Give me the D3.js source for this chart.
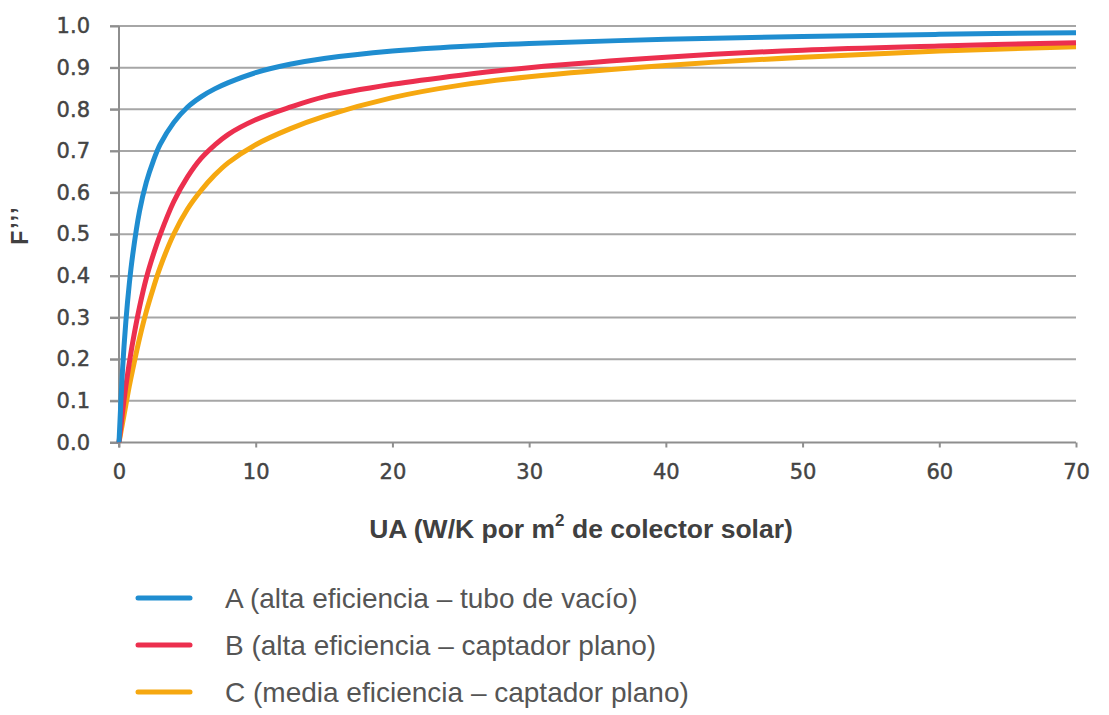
<!DOCTYPE html>
<html>
<head>
<meta charset="utf-8">
<script src="https://cdn.jsdelivr.net/npm/d3@7"></script>
<style>
  html, body { margin: 0; padding: 0; background: #ffffff; }
  svg { display: block; }
</style>
</head>
<body>
<svg id="chart" width="1109" height="715"></svg>
<script>
// UA values (W/K per m² of collector) where each curve is sampled
const ua = [0, 0.25, 0.5, 0.75, 1, 1.5, 2, 2.5, 3, 4, 5, 6, 7, 8, 10, 12.5, 15, 20, 25, 30, 40, 50, 60, 70];

// F''' for each collector type
const serieA = [0, 0.17, 0.29, 0.38, 0.45, 0.555, 0.625, 0.675, 0.715, 0.768, 0.805, 0.83, 0.849, 0.864, 0.888, 0.908, 0.922, 0.94, 0.951, 0.958, 0.968, 0.975, 0.98, 0.984];
const serieB = [0, 0.07, 0.135, 0.19, 0.24, 0.325, 0.395, 0.45, 0.498, 0.578, 0.637, 0.682, 0.714, 0.74, 0.775, 0.805, 0.83, 0.86, 0.882, 0.9, 0.925, 0.942, 0.952, 0.96];
const serieC = [0, 0.045, 0.09, 0.135, 0.175, 0.25, 0.315, 0.37, 0.42, 0.5, 0.56, 0.605, 0.642, 0.672, 0.715, 0.753, 0.783, 0.828, 0.858, 0.878, 0.905, 0.925, 0.94, 0.95];

const seriesNames = [
  "A (alta eficiencia – tubo de vacío)",
  "B (alta eficiencia – captador plano)",
  "C (media eficiencia – captador plano)"
];
const seriesColors = ["#1f8dd0", "#ec2f4e", "#f6a810"];

const xTicks = [0, 10, 20, 30, 40, 50, 60, 70];
const yTicks = [0, 0.1, 0.2, 0.3, 0.4, 0.5, 0.6, 0.7, 0.8, 0.9, 1.0];

const svg = d3.select("#chart");

const x = d3.scaleLinear().domain([0, 70]).range([119, 1076]);
const y = d3.scaleLinear().domain([0, 1]).range([442.5, 26]);

// horizontal gridlines (with short stubs left of the axis)
svg.append("g")
  .selectAll("line")
  .data(yTicks.slice(1))
  .join("line")
  .attr("x1", 110).attr("x2", 1076)
  .attr("y1", d => y(d)).attr("y2", d => y(d))
  .attr("stroke", "#a6a6a6").attr("stroke-width", 2);

const tickFont = sel => sel
  .attr("fill", "#444444")
  .attr("stroke", "#444444")
  .attr("stroke-width", 0.45)
  .style("font-family", "'DejaVu Sans', Verdana, sans-serif")
  .style("font-size", "21px");

// y axis labels
const yAxis = svg.append("g")
  .attr("transform", `translate(119,0)`)
  .call(d3.axisLeft(y).tickValues(yTicks).tickFormat(d3.format(".1f")).tickSize(9).tickPadding(20));
yAxis.select(".domain").remove();
yAxis.selectAll(".tick line").attr("stroke", "#8e8e8e").attr("stroke-width", 2);
yAxis.selectAll(".tick text").call(tickFont);

// x axis
const xAxis = svg.append("g")
  .attr("transform", `translate(0,${y(0)})`)
  .call(d3.axisBottom(x).tickValues(xTicks).tickFormat(d3.format("d")).tickSize(5).tickPadding(17));
xAxis.select(".domain").attr("stroke", "#8e8e8e").attr("stroke-width", 2)
  .attr("d", `M110,0H1076`);
xAxis.selectAll(".tick line").attr("stroke", "#8e8e8e").attr("stroke-width", 2);
xAxis.selectAll(".tick text").call(tickFont);

// vertical axis line
svg.append("line")
  .attr("x1", x(0)).attr("x2", x(0))
  .attr("y1", y(1)).attr("y2", y(0) + 5)
  .attr("stroke", "#8e8e8e").attr("stroke-width", 2);

// curves
const line = d3.line()
  .x((d, i) => x(ua[i]))
  .y(d => y(d))
  .curve(d3.curveCatmullRom.alpha(0.5));

[serieA, serieB, serieC].slice().reverse().forEach((s, k) => {
  const i = 2 - k;
  svg.append("path")
    .attr("d", line(s))
    .attr("fill", "none")
    .attr("stroke", seriesColors[i])
    .attr("stroke-width", 5)
    .attr("stroke-linejoin", "round");
});

// y axis title
svg.append("text")
  .attr("transform", "translate(28,225) rotate(-90)")
  .attr("text-anchor", "middle")
  .attr("fill", "#404040")
  .style("font-family", "'Liberation Sans', Arial, sans-serif")
  .style("font-weight", "bold")
  .style("font-size", "23px")
  .style("letter-spacing", "2px")
  .text("F’’’");

// x axis title
const xt = svg.append("text")
  .attr("x", 581).attr("y", 538)
  .attr("text-anchor", "middle")
  .attr("fill", "#404040")
  .style("font-family", "'Liberation Sans', Arial, sans-serif")
  .style("font-weight", "bold")
  .style("font-size", "26.5px");
xt.append("tspan").text("UA (W/K por m");
xt.append("tspan").attr("dy", -12).style("font-size", "17px").text("2");
xt.append("tspan").attr("dy", 12).text(" de colector solar)");

// legend
const legend = svg.append("g");
const rows = legend.selectAll("g")
  .data(seriesNames)
  .join("g")
  .attr("transform", (d, i) => `translate(0,${598 + i * 47})`);
rows.append("line")
  .attr("x1", 138).attr("x2", 190)
  .attr("y1", 0).attr("y2", 0)
  .attr("stroke", (d, i) => seriesColors[i])
  .attr("stroke-width", 5)
  .attr("stroke-linecap", "round");
rows.append("text")
  .attr("x", 225).attr("y", 0).attr("dy", "0.35em")
  .attr("fill", "#555555")
  .style("font-family", "'Liberation Sans', Arial, sans-serif")
  .style("font-size", "28px")
  .text(d => d);
</script>
</body>
</html>
